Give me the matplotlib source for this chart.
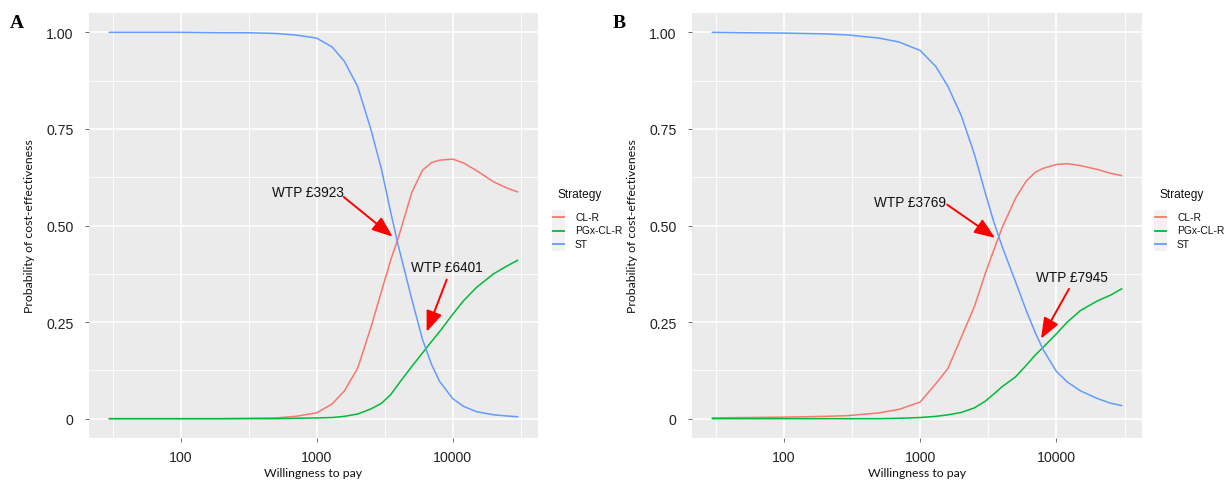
import numpy as np
import matplotlib
matplotlib.use("Agg")
import matplotlib.pyplot as plt
from matplotlib.patches import Rectangle
from matplotlib.lines import Line2D

# ---------------- data ----------------
wtp = [30, 50, 100, 200, 300, 500, 700, 1000, 1300, 1600, 2000, 2500, 3000,
       3500, 4000, 5000, 6000, 7000, 8000, 10000, 12000, 15000, 20000, 25000, 30000]

strategies = ["CL-R", "PGx-CL-R", "ST"]
colors = ["#F8766D", "#00BA38", "#619CFF"]

# Panel A
a_clr = [0.0, 0.0, 0.0, 0.0, 0.001, 0.002, 0.006, 0.015, 0.038, 0.072, 0.13, 0.235,
         0.33, 0.41, 0.47, 0.585, 0.643, 0.663, 0.669, 0.672, 0.662, 0.642, 0.613, 0.597, 0.587]
a_pgx = [0.0, 0.0, 0.0, 0.0, 0.0, 0.0, 0.001, 0.002, 0.003, 0.006, 0.012, 0.025,
         0.04, 0.062, 0.09, 0.135, 0.17, 0.2, 0.225, 0.27, 0.305, 0.34, 0.375, 0.395, 0.41]
a_st = [1.0, 1.0, 1.0, 0.999, 0.999, 0.997, 0.993, 0.985, 0.962, 0.925, 0.86, 0.75,
        0.645, 0.535, 0.445, 0.31, 0.205, 0.14, 0.097, 0.052, 0.032, 0.018, 0.01, 0.007, 0.005]

# Panel B
b_clr = [0.002, 0.003, 0.004, 0.006, 0.008, 0.015, 0.024, 0.043, 0.09, 0.13, 0.21, 0.29,
         0.375, 0.44, 0.495, 0.57, 0.615, 0.638, 0.648, 0.658, 0.66, 0.655, 0.645, 0.635, 0.629]
b_pgx = [0.0, 0.0, 0.0, 0.0, 0.0, 0.0, 0.001, 0.003, 0.006, 0.01, 0.016, 0.028,
         0.045, 0.065, 0.083, 0.108, 0.138, 0.165, 0.185, 0.22, 0.25, 0.28, 0.305, 0.32, 0.336]
b_st = [1.0, 0.999, 0.998, 0.996, 0.993, 0.985, 0.975, 0.953, 0.912, 0.86, 0.785, 0.685,
        0.585, 0.505, 0.445, 0.355, 0.28, 0.222, 0.178, 0.122, 0.095, 0.072, 0.052, 0.04, 0.034]

x_ticks = [100, 1000, 10000]
x_tick_labels = ["100", "1000", "10000"]
y_ticks = [0, 0.25, 0.5, 0.75, 1.0]
y_tick_labels = ["0", "0.25", "0.50", "0.75", "1.00"]

# annotations: (label, text position (wtp, p), arrow start, arrow tip)
a_notes = [("WTP £3923", (866, 0.587), (1580, 0.574), (3620, 0.471)),
           ("WTP £6401", (9040, 0.393), (9040, 0.36), (6440, 0.225))]
b_notes = [("WTP £3769", (845, 0.561), (1577, 0.554), (3546, 0.468)),
           ("WTP £7945", (12900, 0.367), (12350, 0.336), (7700, 0.207))]

# ---------------- figure ----------------
W, H = 1225, 481
fig = plt.figure(figsize=(W / 100, H / 100), dpi=100)
fig.patch.set_facecolor("white")

TICKFONT = "Liberation Sans"
LABFONT = "Lato"


def px_rect(l, t, r, b):
    return [l / W, 1 - b / H, (r - l) / W, (b - t) / H]


def draw_panel(rect, series, notes, letter, letter_x, legend_x):
    ax = fig.add_axes(rect)
    ax.set_facecolor("#EBEBEB")
    ax.set_xscale("log")
    lo, hi = np.log10(min(wtp)), np.log10(max(wtp))
    ex = 0.05 * (hi - lo)
    ax.set_xlim(10 ** (lo - ex), 10 ** (hi + ex))
    ax.set_ylim(-0.05, 1.05)

    # grid
    minor_x = [10 ** (k + 0.5) for k in range(1, 5)]
    minor_y = [0.125, 0.375, 0.625, 0.875]
    for v in minor_x:
        ax.axvline(v, color="white", lw=0.6, zorder=0)
    for v in minor_y:
        ax.axhline(v, color="white", lw=0.6, zorder=0)
    for v in x_ticks:
        ax.axvline(v, color="white", lw=1.2, zorder=0)
    for v in y_ticks:
        ax.axhline(v, color="white", lw=1.2, zorder=0)

    for name, col, vals in zip(strategies, colors, series):
        ax.plot(wtp, vals, color=col, lw=1.1, zorder=2)

    ax.set_xticks(x_ticks)
    ax.set_xticklabels(x_tick_labels)
    ax.set_xticks([], minor=True)
    ax.set_yticks(y_ticks)
    ax.set_yticklabels(y_tick_labels)
    ax.tick_params(axis="both", length=3, width=0.6, color="#555555",
                   labelcolor="#222222", labelsize=10.2)
    ax.tick_params(axis="y", pad=8)
    ax.tick_params(axis="x", pad=6)
    for lab in ax.get_xticklabels() + ax.get_yticklabels():
        lab.set_family(TICKFONT)
    for s in ax.spines.values():
        s.set_visible(False)

    ax.set_xlabel("Willingness to pay", family=LABFONT, fontsize=8.8, color="#111111", labelpad=2)
    ax.set_ylabel("Probability of cost-effectiveness", family=LABFONT, fontsize=8.8,
                  color="#111111", labelpad=8)

    for label, tpos, start, tip in notes:
        ax.text(tpos[0], tpos[1], label, ha="center", va="center", family=TICKFONT,
                fontsize=9.8, color="#111111", zorder=4)
        ax.annotate("", xy=tip, xytext=start,
                    arrowprops=dict(arrowstyle="-|>,head_length=0.9,head_width=0.35",
                                    color="red", lw=1.4, mutation_scale=14,
                                    shrinkA=0, shrinkB=0), zorder=4)

    # panel letter
    fig.text(letter_x / W, 1 - 23 / H, letter, family="Liberation Serif", weight="bold",
             fontsize=14, ha="left", va="center", color="black")

    # legend (manual, ggplot-style)
    fig.text((legend_x + 1) / W, 1 - 195 / H, "Strategy", family=TICKFONT, fontsize=8.6,
             ha="left", va="center", color="#111111")
    for i, (name, col) in enumerate(zip(strategies, colors)):
        yc = 218 + i * 13.5
        fig.patches.append(Rectangle(((legend_x - 4) / W, 1 - (yc + 6.7) / H), 13 / W, 13.4 / H,
                                     transform=fig.transFigure, facecolor="#F2F2F2",
                                     edgecolor="none"))
        fig.lines.append(Line2D([(legend_x - 3) / W, (legend_x + 8) / W],
                                [1 - yc / H, 1 - yc / H], transform=fig.transFigure,
                                color=col, lw=1.3))
        fig.text((legend_x + 19) / W, 1 - yc / H, name, family=TICKFONT, fontsize=7.4,
                 ha="left", va="center", color="#111111")
    return ax


draw_panel(px_rect(89, 14, 538, 439), [a_clr, a_pgx, a_st], a_notes, "A", 10, 556)
draw_panel(px_rect(692, 14, 1142, 439), [b_clr, b_pgx, b_st], b_notes, "B", 613, 1158)

fig.savefig("out.png", dpi=100, facecolor="white")
